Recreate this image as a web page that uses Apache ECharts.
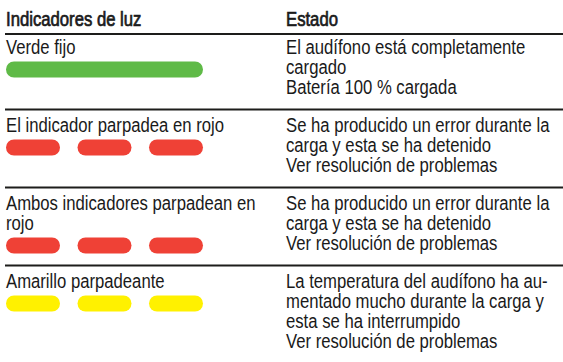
<!DOCTYPE html>
<html>
<head>
<meta charset="utf-8">
<script src="https://cdn.jsdelivr.net/npm/echarts@6/dist/echarts.min.js"></script>
<style>
  html, body { margin: 0; padding: 0; background: #ffffff; }
  #chart { width: 563px; height: 362px; }
</style>
</head>
<body>
<div id="chart"></div>
<script>
// ---- data ----
const headers = ['Indicadores de luz', 'Estado'];
const indicatorLabels = [
  'Verde fijo',
  'El indicador parpadea en rojo',
  'Ambos indicadores parpadean en\nrojo',
  'Amarillo parpadeante'
];
const stateTexts = [
  'El audífono está completamente\ncargado\nBatería 100 % cargada',
  'Se ha producido un error durante la\ncarga y esta se ha detenido\nVer resolución de problemas',
  'Se ha producido un error durante la\ncarga y esta se ha detenido\nVer resolución de problemas',
  'La temperatura del audífono ha au-\nmentado mucho durante la carga y\nesta se ha interrumpido\nVer resolución de problemas'
];
const lightColors = ['#5fba47', '#ef4136', '#ef4136', '#fff100'];
const flashCounts = [1, 3, 3, 3];

// ---- layout (pixel units on hidden value axes) ----
const W = 563, H = 362;
const FONT = "'Liberation Sans', Arial, sans-serif";
const FS = 20, LH = 20, SX = 0.835;
const leftX = 6, rightX = 286, lineX0 = 5;
const barW = 197, barGap = 17.5, barH = 16;
const headerLineY = 34;
const firstCap = 40, capOffset = 2.6, rowExtra = 18, sepAbove = 8.5;

function nLines(s) { return s.split('\n').length; }
const rowCapTops = [];
(function () {
  let c = firstCap;
  for (let i = 0; i < indicatorLabels.length; i++) {
    rowCapTops.push(c);
    const m = Math.max(nLines(stateTexts[i]), nLines(indicatorLabels[i]) + 1);
    c += LH * m + rowExtra;
  }
})();

const rowData = indicatorLabels.map((_, i) => [i]);
const barData = [];
flashCounts.forEach((n, r) => { for (let k = 0; k < n; k++) barData.push([r, k]); });

function textEl(t, p, bold) {
  const style = { text: t, x: 0, y: 0, fill: '#1a1a1a', font: FS + 'px ' + FONT,
                  lineHeight: LH, verticalAlign: 'top', align: 'left' };
  if (bold) { style.stroke = '#1a1a1a'; style.lineWidth = 0.7; }
  return { type: 'text', x: p[0], y: p[1], scaleX: SX, scaleY: 1, style: style };
}

const chart = echarts.init(document.getElementById('chart'), null, { renderer: 'svg' });

chart.setOption({
  animation: false,
  backgroundColor: '#ffffff',
  grid: { left: 0, right: 0, top: 0, bottom: 0 },
  xAxis: { type: 'value', min: 0, max: W, show: false },
  yAxis: { type: 'value', min: 0, max: H, inverse: true, show: false },
  series: [
    {
      type: 'custom',
      name: 'header',
      data: [[0]],
      renderItem: function (params, api) {
        const hy = 11.7 - capOffset;
        const p1 = api.coord([leftX, hy]);
        const p2 = api.coord([rightX, hy]);
        const l0 = api.coord([lineX0, headerLineY]);
        const l1 = api.coord([W, headerLineY]);
        return {
          type: 'group',
          children: [
            textEl(headers[0], p1, true),
            textEl(headers[1], p2, true),
            { type: 'line', shape: { x1: l0[0], y1: l0[1], x2: l1[0], y2: l1[1] },
              style: { stroke: '#1d1d1b', lineWidth: 2 } }
          ]
        };
      }
    },
    {
      type: 'custom',
      name: 'rows',
      data: rowData,
      renderItem: function (params, api) {
        const i = api.value(0);
        const cap = rowCapTops[i];
        const top = cap - capOffset;
        const children = [
          textEl(indicatorLabels[i], api.coord([leftX, top]), false),
          textEl(stateTexts[i], api.coord([rightX, top]), false)
        ];
        if (i > 0) {
          const a = api.coord([lineX0, cap - sepAbove]);
          const b = api.coord([W, cap - sepAbove]);
          children.push({ type: 'line', shape: { x1: a[0], y1: a[1], x2: b[0], y2: b[1] },
            style: { stroke: '#1d1d1b', lineWidth: 2 } });
        }
        return { type: 'group', children: children };
      }
    },
    {
      type: 'custom',
      name: 'lights',
      data: barData,
      renderItem: function (params, api) {
        const r = api.value(0), k = api.value(1);
        const n = flashCounts[r];
        const w = (barW - (n - 1) * barGap) / n;
        const x0 = leftX + k * (w + barGap);
        const y0 = rowCapTops[r] + LH * nLines(indicatorLabels[r]) + 1.5;
        const a = api.coord([x0, y0]);
        const b = api.coord([x0 + w, y0 + barH]);
        return {
          type: 'rect',
          shape: { x: a[0], y: a[1], width: b[0] - a[0], height: b[1] - a[1], r: (b[1] - a[1]) / 2 },
          style: { fill: lightColors[r] }
        };
      }
    }
  ]
});
</script>
</body>
</html>
